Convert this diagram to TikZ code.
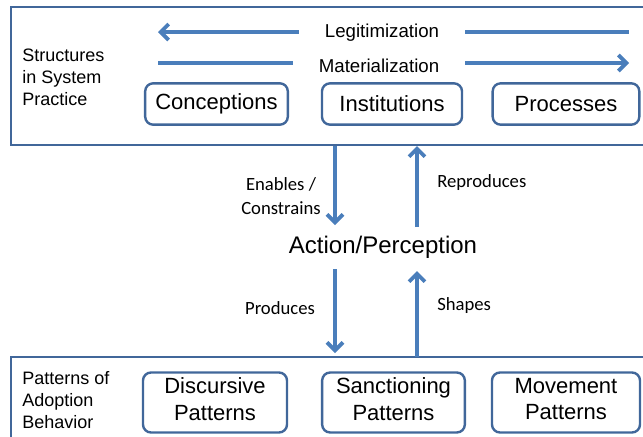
\documentclass[tikz,border=0pt]{standalone}
\usepackage{fontspec}
\setmainfont{Liberation Sans}
\newfontfamily\lblfont{Carlito}
\usetikzlibrary{arrows.meta}
\definecolor{framec}{HTML}{41679A}
\definecolor{arrc}{HTML}{4A7EBB}
\tikzset{
  frame/.style={draw=framec, line width=1.9pt},
  box/.style={draw=framec, line width=1.8pt, rounded corners=6pt, font=\fontsize{16.5}{20}\selectfont, align=center, inner sep=0pt},
  boxtext/.style={font=\fontsize{16.5}{20}\selectfont, align=center, inner sep=0pt},
  arr/.style={draw=arrc, line width=2.8pt, -{Straight Barb[length=6pt,width=12pt]}},
  plain/.style={draw=arrc, line width=2.8pt},
  side/.style={font=\fontsize{13.5}{16.5}\selectfont, align=left, anchor=west, inner sep=0pt},
  flow/.style={font=\fontsize{14}{16}\selectfont, inner sep=0pt},
  lbl/.style={font=\lblfont\fontsize{14}{18}\selectfont, align=center, inner sep=0pt},
}
\begin{document}
\begin{tikzpicture}[x=0.75pt,y=-0.75pt]
\useasboundingbox (0,0) rectangle (643,436);
\clip (0,0) rectangle (643,436);
% frames
\draw[frame] (11,7) rectangle (670,145);
\draw[frame] (11,357) rectangle (670,470);
% side texts
\node[side] (stru) at (22,77) {Structures\\in System\\Practice};
\node[side] (patt) at (22,400) {Patterns of\\Adoption\\Behavior};
% flow labels
\node[flow, minimum width=124.5pt, minimum height=12pt] (legit) at (382,32.5) {Legitimization};
\node[flow, minimum width=129pt, minimum height=12pt] (mater) at (379,65.5) {Materialization};
\coordinate (legL) at (158,32);
\coordinate (legR) at (629,32);
\coordinate (matL) at (158,63);
\coordinate (matR) at (629,63);
\draw[arr] (legit.west |- legL) -- (legL);
\draw[plain] (legit.east |- legR) -- (legR);
\draw[plain] (matL) -- (mater.west |- matL);
\draw[arr] (mater.east |- matR) -- (matR);
% top boxes
\node[box, minimum width=107pt, minimum height=31pt] (conc) at (216.5,104) {Conceptions};
\node[box, minimum width=105pt, minimum height=31pt] (inst) at (392,104) {Institutions};
\node[box, minimum width=110pt, minimum height=31pt] (proc) at (566,104) {Processes};
% bottom boxes
\node[box, minimum width=108pt, minimum height=45pt] (disc) at (215,402.5) {};
\node[box, minimum width=107pt, minimum height=45pt] (sanc) at (393.5,402.5) {};
\node[box, minimum width=111pt, minimum height=45pt] (move) at (566,402.5) {};
\node[boxtext] (disct) at ([yshift=2.5pt]disc.center) {Discursive\\Patterns};
\node[boxtext] (sanct) at ([yshift=2.5pt]sanc.center) {Sanctioning\\Patterns};
\node[boxtext] (movet) at ([yshift=2.5pt]move.center) {Movement\\Patterns};
% center
\node[font=\fontsize{18}{22}\selectfont, inner sep=0pt] (act) at (383,247) {Action/Perception};
\coordinate (topD) at (335,146);
\coordinate (topU) at (417,146);
\coordinate (botD) at (335,353);
\coordinate (botU) at (417,357);
\draw[arr] (topD) -- (335,225) coordinate (actD1);
\draw[arr] (417,227) coordinate (actU1) -- (topU);
\draw[arr] (335,269) coordinate (actD2) -- (botD);
\draw[arr] (botU) -- (417,271) coordinate (actU2);
% arrow labels
\node[lbl] (enab) at (281,196) {Enables /\\Constrains};
\node[lbl, anchor=west] (repr) at (437,183) {Reproduces};
\node[lbl] (prod) at (280,308) {Produces};
\node[lbl, anchor=west] (shap) at (437,306) {Shapes};
\end{tikzpicture}
\end{document}
